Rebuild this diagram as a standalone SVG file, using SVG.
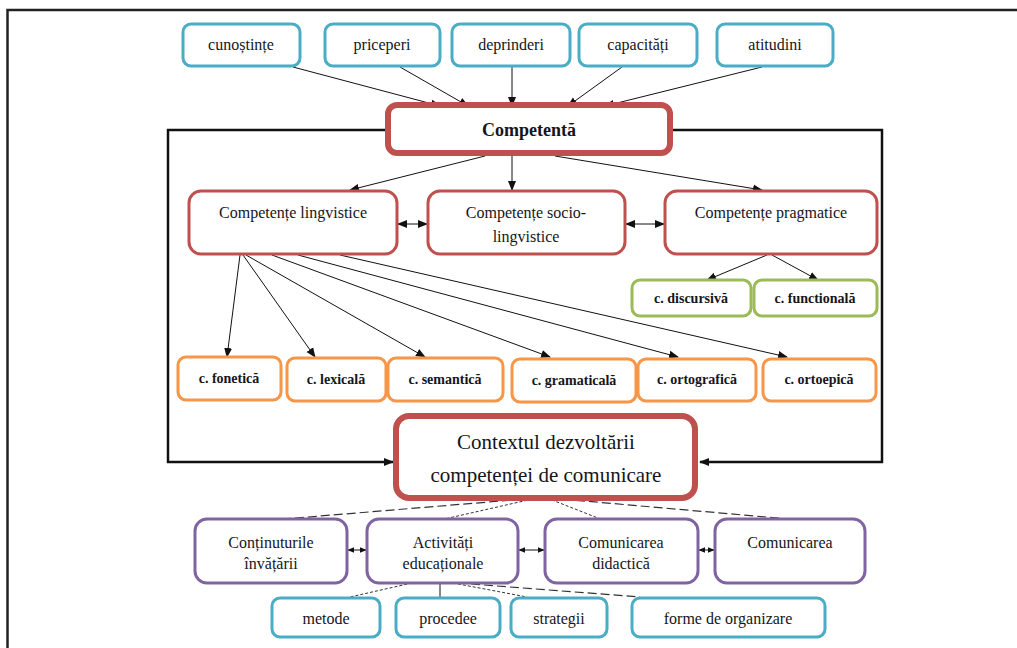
<svg xmlns="http://www.w3.org/2000/svg" width="1017" height="648" viewBox="0 0 1017 648">
<defs>
<marker id="ah" viewBox="0 0 10 10" refX="9" refY="5" markerWidth="10" markerHeight="10" markerUnits="userSpaceOnUse" orient="auto-start-reverse">
<path d="M0,1 L10,5 L0,9 z" fill="#111"/>
</marker>
<marker id="ahs" viewBox="0 0 10 10" refX="9" refY="5" markerWidth="7" markerHeight="7" markerUnits="userSpaceOnUse" orient="auto-start-reverse">
<path d="M0,1 L10,5 L0,9 z" fill="#111"/>
</marker>
<style>
text{font-family:"Times New Roman","Liberation Serif","DejaVu Serif","Noto Serif",serif;fill:#151520;text-anchor:middle}
.t16{font-size:16px}
.t13{font-size:14px;font-weight:bold}
.cy{fill:#fff;stroke:#4bacc6;stroke-width:3}
.rd{fill:#fff;stroke:#c0504d;stroke-width:3}
.rdb{fill:#fff;stroke:#c0504d;stroke-width:6}
.gr{fill:#fff;stroke:#9bbb59;stroke-width:3}
.or{fill:#fff;stroke:#f79646;stroke-width:3}
.pu{fill:#fff;stroke:#8064a2;stroke-width:3}
.ln{stroke:#111;stroke-width:1;fill:none}
.fb{stroke:#111;stroke-width:2.5;fill:none}
.ld{stroke:#333;stroke-width:1.2;fill:none;stroke-dasharray:9 4}
.sd{stroke:#333;stroke-width:1;fill:none;stroke-dasharray:3 2}
</style>
</defs>
<rect width="1017" height="648" fill="#fff"/>
<path d="M7.5,648 L7.5,10 L1017,10" stroke="#222" stroke-width="2.5" fill="none"/>

<g id="connectors">
<line class="ln" x1="293" y1="67" x2="440" y2="106" marker-end="url(#ah)"/>
<line class="ln" x1="400" y1="67" x2="468" y2="106" marker-end="url(#ah)"/>
<line class="ln" x1="512" y1="67" x2="512" y2="106" marker-end="url(#ah)"/>
<line class="ln" x1="622" y1="67" x2="568" y2="106" marker-end="url(#ah)"/>
<line class="ln" x1="762" y1="67" x2="605" y2="106" marker-end="url(#ah)"/>
<path class="fb" d="M385,130 L168,130 L168,462 L393,462" marker-end="url(#ah)"/>
<path class="fb" d="M673,130 L882,130 L882,462 L700,462" marker-end="url(#ah)"/>
<line class="ln" x1="485" y1="156" x2="350" y2="190" marker-end="url(#ah)"/>
<line class="ln" x1="512" y1="156" x2="512" y2="190" marker-end="url(#ah)"/>
<line class="ln" x1="555" y1="156" x2="762" y2="190" marker-end="url(#ah)"/>
<line class="ln" x1="398" y1="224" x2="427" y2="224" marker-start="url(#ah)" marker-end="url(#ah)"/>
<line class="ln" x1="626" y1="224" x2="664" y2="224" marker-start="url(#ah)" marker-end="url(#ah)"/>
<line class="ln" x1="767" y1="255" x2="707" y2="280" marker-end="url(#ah)"/>
<line class="ln" x1="772" y1="255" x2="818" y2="280" marker-end="url(#ah)"/>
<line class="ln" x1="240" y1="255" x2="227" y2="357" marker-end="url(#ah)"/>
<line class="ln" x1="243" y1="255" x2="315" y2="357" marker-end="url(#ah)"/>
<line class="ln" x1="246" y1="255" x2="425" y2="357" marker-end="url(#ah)"/>
<line class="ln" x1="272" y1="255" x2="550" y2="357" marker-end="url(#ah)"/>
<line class="ln" x1="298" y1="255" x2="678" y2="357" marker-end="url(#ah)"/>
<line class="ln" x1="340" y1="255" x2="787" y2="357" marker-end="url(#ah)"/>
<line class="ld" x1="537" y1="498" x2="272" y2="520"/>
<line class="sd" x1="537" y1="498" x2="440" y2="520"/>
<line class="sd" x1="547" y1="498" x2="603" y2="520"/>
<line class="ld" x1="550" y1="498" x2="800" y2="520"/>
<line class="ln" x1="348" y1="550" x2="366" y2="550" marker-start="url(#ahs)" marker-end="url(#ahs)"/>
<line class="ln" x1="519" y1="550" x2="544" y2="550" marker-start="url(#ahs)" marker-end="url(#ahs)"/>
<line class="ln" x1="699" y1="550" x2="714" y2="550" marker-start="url(#ahs)" marker-end="url(#ahs)"/>
<line class="sd" x1="412" y1="583" x2="350" y2="597"/>
<line class="ln" x1="440" y1="583" x2="440" y2="597"/>
<line class="sd" x1="453" y1="583" x2="527" y2="597"/>
<line class="ld" x1="458" y1="583" x2="640" y2="597"/>
</g>

<g id="n-cunostinte"><rect class="cy" x="183" y="24" width="117" height="42" rx="8"/><text class="t16" x="241" y="50">cunoștințe</text></g>
<g id="n-priceperi"><rect class="cy" x="325" y="24" width="115" height="42" rx="8"/><text class="t16" x="382" y="50">priceperi</text></g>
<g id="n-deprinderi"><rect class="cy" x="452" y="24" width="118" height="42" rx="8"/><text class="t16" x="511" y="50">deprinderi</text></g>
<g id="n-capacitati"><rect class="cy" x="579" y="24" width="118" height="42" rx="8"/><text class="t16" x="638" y="50">capacități</text></g>
<g id="n-atitudini"><rect class="cy" x="717" y="24" width="116" height="42" rx="8"/><text class="t16" x="775" y="50">atitudini</text></g>

<g id="n-competenta"><rect class="rdb" x="388" y="105" width="282" height="48" rx="9"/><text x="529" y="136" style="font-size:18px;font-weight:bold">Competentă</text></g>

<g id="n-lingvistice"><rect class="rd" x="189" y="191" width="208" height="63" rx="12"/><text class="t16" x="293" y="218">Competențe lingvistice</text></g>
<g id="n-socio"><rect class="rd" x="428" y="191" width="197" height="63" rx="12"/><text class="t16" x="526" y="218">Competențe socio-</text><text class="t16" x="526" y="242">lingvistice</text></g>
<g id="n-pragmatice"><rect class="rd" x="665" y="191" width="212" height="63" rx="12"/><text class="t16" x="771" y="218">Competențe pragmatice</text></g>

<g id="n-discursiva"><rect class="gr" x="632" y="280" width="119" height="36" rx="8"/><text class="t13" x="691" y="303">c. discursivă</text></g>
<g id="n-functionala"><rect class="gr" x="754" y="280" width="123" height="36" rx="8"/><text class="t13" x="815" y="303">c. functională</text></g>

<g id="n-fonetica"><rect class="or" x="178" y="357" width="103" height="43" rx="8"/><text class="t13" x="229" y="383">c. fonetică</text></g>
<g id="n-lexicala"><rect class="or" x="287" y="358" width="99" height="43" rx="8"/><text class="t13" x="336" y="384">c. lexicală</text></g>
<g id="n-semantica"><rect class="or" x="388" y="358" width="115" height="43" rx="8"/><text class="t13" x="445" y="384">c. semantică</text></g>
<g id="n-gramaticala"><rect class="or" x="512" y="359" width="124" height="43" rx="8"/><text class="t13" x="574" y="385">c. gramaticală</text></g>
<g id="n-ortografica"><rect class="or" x="638" y="359" width="118" height="42" rx="8"/><text class="t13" x="697" y="384">c. ortografică</text></g>
<g id="n-ortoepica"><rect class="or" x="763" y="359" width="113" height="42" rx="8"/><text class="t13" x="819" y="384">c. ortoepică</text></g>

<g id="n-contextul"><rect class="rdb" x="396" y="416" width="299" height="82" rx="13"/><text x="546" y="449" style="font-size:21px">Contextul dezvoltării</text><text x="546" y="482" style="font-size:21px">competenței de comunicare</text></g>

<g id="n-continuturile"><rect class="pu" x="195" y="519" width="152" height="64" rx="12"/><text class="t16" x="271" y="548">Conținuturile</text><text class="t16" x="271" y="569">învățării</text></g>
<g id="n-activitati"><rect class="pu" x="367" y="519" width="151" height="64" rx="12"/><text class="t16" x="443" y="548">Activități</text><text class="t16" x="443" y="569">educaționale</text></g>
<g id="n-com-didactica"><rect class="pu" x="545" y="519" width="153" height="64" rx="12"/><text class="t16" x="621" y="548">Comunicarea</text><text class="t16" x="621" y="569">didactică</text></g>
<g id="n-comunicarea"><rect class="pu" x="715" y="519" width="150" height="64" rx="12"/><text class="t16" x="790" y="548">Comunicarea</text></g>

<g id="n-metode"><rect class="cy" x="272" y="598" width="108" height="39" rx="8"/><text class="t16" x="326" y="624">metode</text></g>
<g id="n-procedee"><rect class="cy" x="396" y="598" width="104" height="39" rx="8"/><text class="t16" x="448" y="624">procedee</text></g>
<g id="n-strategii"><rect class="cy" x="511" y="598" width="96" height="39" rx="8"/><text class="t16" x="559" y="624">strategii</text></g>
<g id="n-forme"><rect class="cy" x="632" y="598" width="193" height="39" rx="8"/><text class="t16" x="728" y="624">forme de organizare</text></g>
</svg>
